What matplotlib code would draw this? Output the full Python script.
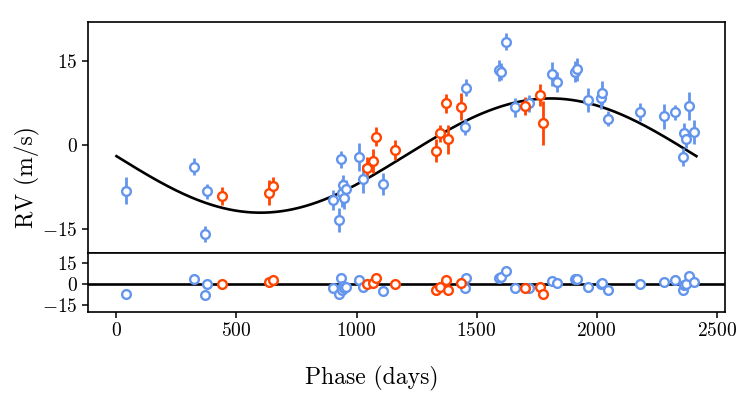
import numpy as np
import matplotlib
matplotlib.use("Agg")
import matplotlib.pyplot as plt

plt.rcParams['font.family'] = 'serif'
plt.rcParams['font.serif'] = ['cmr10']
plt.rcParams['mathtext.fontset'] = 'cm'
plt.rcParams['axes.formatter.use_mathtext'] = True

# instrument 1 (blue)
phase_b = [40, 323, 367, 377, 900, 929, 936, 938, 944, 949, 958, 1009, 1025, 1110,
           1451, 1455, 1593, 1600, 1624, 1661, 1717, 1814, 1835, 1910, 1918, 1966,
           2019, 2021, 2048, 2183, 2283, 2326, 2361, 2366, 2373, 2384, 2405]
rv_b = [-8.2, -3.9, -15.9, -8.3, -9.8, -13.4, -2.6, -8.6, -7.1, -9.4, -7.9, -2.1, -6.1, -7.0,
        3.2, 10.2, 13.3, 13.1, 18.4, 6.7, 7.4, 12.7, 11.3, 13.1, 13.5, 8.0,
        8.3, 9.3, 4.7, 5.9, 5.1, 5.8, -2.1, 2.1, 1.0, 7.0, 2.3]
err_b = [2.4, 1.5, 1.4, 1.4, 1.8, 2.2, 1.6, 2.5, 1.8, 2.0, 1.6, 2.5, 2.5, 1.9,
         1.5, 1.5, 1.9, 1.5, 1.5, 1.7, 1.5, 2.1, 1.8, 1.8, 2.0, 2.1,
         1.8, 2.2, 1.4, 1.6, 2.2, 1.3, 1.6, 1.8, 1.5, 2.5, 2.1]
res_b = [-7.2, 3.8, -7.7, 0.2, -2.6, -7.2, 4.3, -4.1, -1.0, -2.9, -1.9, 3.1, -1.7, -4.6,
         -2.9, 4.3, 4.8, 5.0, 9.8, -2.9, -2.9, 2.6, 1.0, 3.6, 3.8, -1.7,
         0.0, 0.7, -3.8, 0.0, 1.4, 3.4, -3.8, -0.5, 0.0, 6.2, 1.9]

# instrument 2 (red)
phase_r = [440, 636, 654, 1045, 1070, 1081, 1160, 1330, 1348, 1373, 1383, 1437, 1703, 1765, 1779]
rv_r = [-9.1, -8.5, -7.3, -4.2, -2.9, 1.5, -0.9, -1.0, 2.1, 7.4, 1.0, 6.8, 7.0, 8.9, 3.9]
err_r = [1.55, 2.3, 1.55, 2.1, 2.1, 1.7, 1.8, 2.0, 1.5, 1.7, 2.6, 2.4, 1.6, 2.0, 3.9]
res_r = [0.2, 1.9, 2.9, 0.2, 0.7, 4.8, 0.2, -4.1, -1.7, 3.4, -3.8, 1.2, -2.9, -1.7, -7.0]

# fitted model parameters
period = 2416.0
k_amp = 10.2
v0 = -1.9
t_min = 600.0

t = np.linspace(0, period, 500)
model = v0 - k_amp * np.cos(2 * np.pi * (t - t_min) / period)

blue = '#6495ED'
red = '#FF4500'

fig = plt.figure(figsize=(7.47, 3.95), dpi=100)
ax1 = fig.add_axes([0.118, 0.3595, 0.8525, 0.5855])
ax2 = fig.add_axes([0.118, 0.21, 0.8525, 0.1495], sharex=ax1)

kw = dict(fmt='o', mfc='white', ms=6.3, mew=1.7, elinewidth=2.0, capsize=0, zorder=3)
ax1.errorbar(phase_b, rv_b, yerr=err_b, color=blue, mec=blue, **kw)
ax1.errorbar(phase_r, rv_r, yerr=err_r, color=red, mec=red, **kw)
ax1.plot(t, model, color='black', lw=1.9, zorder=2)

ax2.axhline(0, color='black', lw=1.9, zorder=1)
ax2.plot(phase_b, res_b, 'o', mfc='white', mec=blue, ms=6.3, mew=1.7, zorder=3)
ax2.plot(phase_r, res_r, 'o', mfc='white', mec=red, ms=6.3, mew=1.7, zorder=3)

ax1.set_xlim(-118, 2535)
ax1.set_ylim(-19.3, 22)
ax2.set_ylim(-19.9, 22.5)
ax1.set_yticks([-15, 0, 15])
ax2.set_yticks([-15, 0, 15])
ax2.set_xticks([0, 500, 1000, 1500, 2000, 2500])
ax1.tick_params(axis='x', bottom=False, labelbottom=False)

for ax in (ax1, ax2):
    ax.tick_params(labelsize=14, width=1.1, length=4)
    for s in ax.spines.values():
        s.set_linewidth(1.2)

ax1.set_ylabel('RV (m/s)', fontsize=17)
ax1.yaxis.set_label_coords(-0.075, 0.33)
ax2.set_xlabel('Phase (days)', fontsize=17)
ax2.xaxis.set_label_coords(0.497, 0.073, transform=fig.transFigure)

fig.savefig('out.png', dpi=100)
